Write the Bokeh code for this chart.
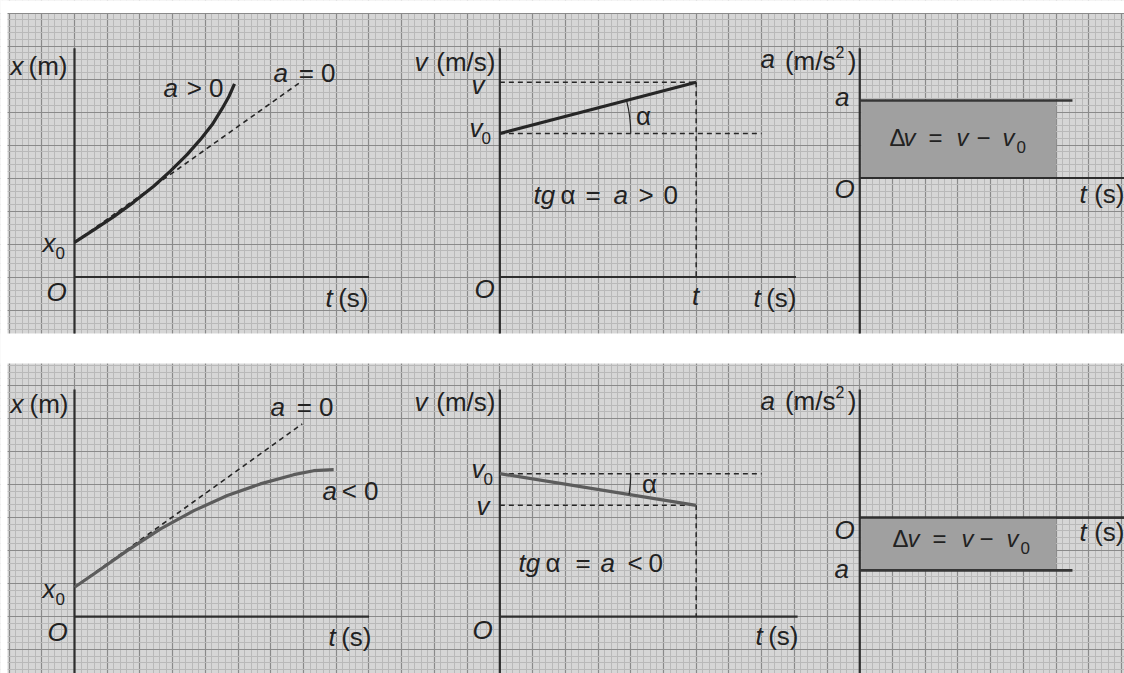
import numpy as np
from bokeh.plotting import figure
from bokeh.models import ColumnDataSource, Range1d, Grid, FixedTicker
from bokeh.core.properties import value, field
from bokeh.embed import file_html
from bokeh.resources import INLINE

# ---------------- data (in graph-paper squares, relative to each panel's origin O) ----------------
# x(t) with a > 0 (top left) and its a = 0 reference line
t_acc = [0.0, 0.59, 1.20, 1.81, 2.42, 2.93, 3.44, 3.85, 4.21, 4.51, 4.72, 4.89]
x_acc = [1.05, 1.43, 1.83, 2.27, 2.75, 3.21, 3.71, 4.17, 4.62, 5.10, 5.47, 5.85]
t_uni_top = [0.0, 6.9]
x_uni_top = [1.05, 5.9]
# x(t) with a < 0 (bottom left) and its a = 0 reference line
t_dec = [0.0, 0.59, 1.61, 2.63, 3.65, 4.67, 5.68, 6.70, 7.31, 7.92]
x_dec = [0.89, 1.29, 2.00, 2.66, 3.21, 3.67, 4.02, 4.30, 4.42, 4.45]
t_uni_bot = [0.0, 6.96]
x_uni_bot = [0.89, 5.84]
# v(t): straight lines from v0 to v at time t
v_time = [0.0, 6.0]
v_acc = [4.35, 5.9]
v_dec = [4.33, 3.37]
v0_guide_end = 8.0
# a(t): constant acceleration
a_pos = 2.35
a_neg = -1.6
area_end = 6.0
a_line_end = 6.5

# ---------------- layout ----------------
SX, SY = 32.72, 33.0            # screen px per square
PAGE_X0, PAGE_Y0 = 74.0, 276.5  # page pixel of top-left panel origin
W, H = 1124, 673

def gx(px):
    return (px - PAGE_X0) / SX

def gy(py):
    return (PAGE_Y0 - py) / SY

BOT = -10.29
origins = {"TL": (0, 0), "TM": (13, 0), "TR": (24, 3),
           "BL": (0, BOT), "BM": (13, BOT), "BR": (24, BOT + 3)}

x0r, x1r = gx(0), gx(W)
y1r, y0r = gy(0), gy(H)

p = figure(width=W, height=H, x_range=Range1d(x0r, x1r), y_range=Range1d(y0r, y1r),
           x_axis_type=None, y_axis_type=None, toolbar_location=None,
           output_backend="svg", min_border=0, outline_line_color=None,
           background_fill_color="#d6d6d6", border_fill_color="white")

MAJ, MIN = "#8a8a8a", "#b9b9b9"
xt = np.arange(-3, 33)
p.add_layout(Grid(dimension=0, ticker=FixedTicker(ticks=list(xt), minor_ticks=list(np.arange(-3, 33, 0.2))),
                  grid_line_color=MAJ, grid_line_width=1.2, minor_grid_line_color=MIN))
top_band = gy(333)      # bottom of top sheet
bot_band = gy(363)      # top of bottom sheet
yt_top = [k for k in range(-3, 10) if top_band <= k <= 8.0]
ym_top = [v for v in np.arange(-3, 10, 0.2) if top_band <= v <= 8.0]
p.add_layout(Grid(dimension=1, ticker=FixedTicker(ticks=yt_top, minor_ticks=ym_top),
                  grid_line_color=MAJ, grid_line_width=1.2, minor_grid_line_color=MIN))
yt_bot = [BOT + k for k in range(-3, 10) if BOT + k <= bot_band]
ym_bot = [BOT + v for v in np.arange(-3, 10, 0.2) if BOT + v <= bot_band]
p.add_layout(Grid(dimension=1, ticker=FixedTicker(ticks=yt_bot, minor_ticks=ym_bot),
                  grid_line_color=MAJ, grid_line_width=1.2, minor_grid_line_color=MIN))

# white paper strips (top margin, left margin and gap between the two sheets)
p.quad(left=[x0r - 1, x0r - 1, x0r - 1], right=[x1r + 1, x1r + 1, gx(7)],
       bottom=[bot_band, gy(12.5), y0r - 1], top=[top_band, y1r + 1, y1r + 1],
       fill_color="white", line_color=None)


def at(key, xs, ys):
    ox, oy = origins[key]
    return [ox + v for v in xs], [oy + v for v in ys]


AX = "#2e2e2e"
DARK = "#262626"
GREY = "#5c5c5c"
DASH = "5 4"

# ---- axes ----
top_axis_top, top_axis_bot = 6.93, top_band
bot_axis_top, bot_axis_bot = gy(389), y0r - 1
axis_len = {"TL": 9.0, "TM": 9.05, "TR": x1r - 24 + 1, "BL": 9.0, "BM": 9.1, "BR": x1r - 24 + 1}
for key in origins:
    ox, oy = origins[key]
    if key.startswith("T"):
        yt, yb = top_axis_top, top_axis_bot
    else:
        yt, yb = bot_axis_top, bot_axis_bot
    p.line([ox, ox], [yb, yt], line_color=AX, line_width=2.2)
    p.line([ox, ox + axis_len[key]], [oy, oy], line_color=AX, line_width=2.2)

# ---- x(t) panels ----
xs, ys = at("TL", t_uni_top, x_uni_top)
p.line(xs, ys, line_color=DARK, line_width=1.6, line_dash=DASH)
xs, ys = at("TL", t_acc, x_acc)
p.line(xs, ys, line_color=DARK, line_width=3.2, line_join="round")
xs, ys = at("BL", t_uni_bot, x_uni_bot)
p.line(xs, ys, line_color=DARK, line_width=1.6, line_dash=DASH)
xs, ys = at("BL", t_dec, x_dec)
p.line(xs, ys, line_color=GREY, line_width=3.2, line_join="round")

# ---- v(t) panels ----
for key, vv, col in (("TM", v_acc, DARK), ("BM", v_dec, GREY)):
    t_end = v_time[-1]
    xs, ys = at(key, [0, v0_guide_end], [vv[0], vv[0]])
    p.line(xs, ys, line_color=DARK, line_width=1.5, line_dash=DASH)
    xs, ys = at(key, [0, t_end], [vv[1], vv[1]])
    p.line(xs, ys, line_color=DARK, line_width=1.5, line_dash=DASH)
    xs, ys = at(key, [t_end, t_end], [vv[1], 0])
    p.line(xs, ys, line_color=DARK, line_width=1.5, line_dash=DASH)
    xs, ys = at(key, v_time, vv)
    p.line(xs, ys, line_color=col, line_width=3.2)
    ang = float(np.arctan2((vv[1] - vv[0]) * SY, (v_time[1] - v_time[0]) * SX))
    cx, cy = at(key, [0], [vv[0]])
    p.arc(x=cx, y=cy, radius=4.0, start_angle=min(0.0, ang), end_angle=max(0.0, ang),
          line_color=DARK, line_width=1.2)

# ---- a(t) panels ----
for key, aval in (("TR", a_pos), ("BR", a_neg)):
    ox, oy = origins[key]
    p.quad(left=[ox + 0.04], right=[ox + area_end], bottom=[oy + min(0, aval)], top=[oy + max(0, aval)],
           fill_color="#a0a0a0", line_color=None)
    xs, ys = at(key, [0, a_line_end], [aval, aval])
    p.line(xs, ys, line_color="#363636", line_width=2.6)
    p.line([ox, ox + axis_len[key]], [oy, oy], line_color=AX, line_width=2.2)

# ---------------- texts (page-pixel anchors) ----------------
S, SS, SM, SP = "26px", "17px", "24px", "16px"
I, N = "italic", "normal"
labels = [
    # top left
    ("x", 10, 65, I, S, "left"), ("(m)", 67, 65, N, S, "right"),
    ("a", 163, 87, I, S, "left"), ("> 0", 223, 87, N, S, "right"),
    ("a", 273, 72, I, S, "left"), ("= 0", 335, 72, N, S, "right"),
    ("x", 42, 242, I, S, "left"), ("0", 55, 252, N, SS, "left"),
    ("O", 46, 291, I, S, "left"),
    ("t", 325, 297, I, S, "left"), ("(s)", 368, 297, N, S, "right"),
    # top middle
    ("v", 414, 61, I, S, "left"), ("(m/s)", 495, 61, N, S, "right"),
    ("v", 484, 84, I, S, "right"),
    ("v", 469, 127, I, S, "left"), ("0", 481, 137, N, SS, "left"),
    ("α", 643, 115, N, S, "center"),
    ("tg", 533, 194, I, S, "left"), ("α", 560, 194, N, S, "left"), ("=", 585, 194, N, S, "left"),
    ("a", 613, 194, I, S, "left"), (">", 638, 194, N, S, "left"), ("0", 663, 194, N, S, "left"),
    ("O", 474, 288, I, S, "left"),
    ("t", 695, 295, I, S, "center"),
    ("t", 753, 297, I, S, "left"), ("(s)", 796, 297, N, S, "right"),
    # top right
    ("a", 760, 58, I, S, "left"), ("(m/s", 835, 60, N, S, "right"), ("2", 835, 51, N, SP, "left"),
    (")", 856, 60, N, S, "right"),
    ("a", 849, 96, I, S, "right"),
    ("Δ", 889, 137, N, SM, "left"), ("v", 903, 137, I, SM, "left"), ("=", 928, 137, N, SM, "left"),
    ("v", 956, 137, I, SM, "left"), ("−", 976, 137, N, SM, "left"), ("v", 1002, 137, I, SM, "left"),
    ("0", 1016, 146, N, SS, "left"),
    ("O", 834, 188, I, S, "left"),
    ("t", 1079, 193, I, S, "left"), ("(s)", 1124, 193, N, S, "right"),
    # bottom left
    ("x", 10, 403, I, S, "left"), ("(m)", 68, 403, N, S, "right"),
    ("a", 270, 406, I, S, "left"), ("= 0", 333, 406, N, S, "right"),
    ("a", 322, 490, I, S, "left"), ("< 0", 378, 490, N, S, "right"),
    ("x", 42, 588, I, S, "left"), ("0", 55, 598, N, SS, "left"),
    ("O", 47, 631, I, S, "left"),
    ("t", 328, 636, I, S, "left"), ("(s)", 371, 636, N, S, "right"),
    # bottom middle
    ("v", 414, 401, I, S, "left"), ("(m/s)", 495, 401, N, S, "right"),
    ("v", 471, 468, I, S, "left"), ("0", 483, 478, N, SS, "left"),
    ("v", 489, 505, I, S, "right"),
    ("α", 649, 483, N, S, "center"),
    ("tg", 518, 562, I, S, "left"), ("α", 545, 562, N, S, "left"), ("=", 575, 562, N, S, "left"),
    ("a", 600, 562, I, S, "left"), ("<", 627, 562, N, S, "left"), ("0", 648, 562, N, S, "left"),
    ("O", 472, 629, I, S, "left"),
    ("t", 755, 635, I, S, "left"), ("(s)", 798, 635, N, S, "right"),
    # bottom right
    ("a", 760, 400, I, S, "left"), ("(m/s", 835, 400, N, S, "right"), ("2", 835, 391, N, SP, "left"),
    (")", 856, 400, N, S, "right"),
    ("O", 834, 529, I, S, "left"),
    ("a", 834, 568, I, S, "left"),
    ("Δ", 892, 538, N, SM, "left"), ("v", 907, 538, I, SM, "left"), ("=", 932, 538, N, SM, "left"),
    ("v", 961, 538, I, SM, "left"), ("−", 979, 538, N, SM, "left"), ("v", 1006, 538, I, SM, "left"),
    ("0", 1020, 547, N, SS, "left"),
    ("t", 1079, 531, I, S, "left"), ("(s)", 1124, 531, N, S, "right"),
]
src = ColumnDataSource(dict(
    text=[l[0] for l in labels],
    x=[gx(l[1]) for l in labels],
    y=[gy(l[2]) for l in labels],
    style=[l[3] for l in labels],
    size=[l[4] for l in labels],
    align=[l[5] for l in labels],
))
p.text(x="x", y="y", text="text", source=src, text_font=value("Liberation Sans"),
       text_font_style=field("style"), text_font_size=field("size"), text_align=field("align"),
       text_baseline="middle", text_color="#222222")

open("out.html", "w").write(file_html(p, INLINE))
